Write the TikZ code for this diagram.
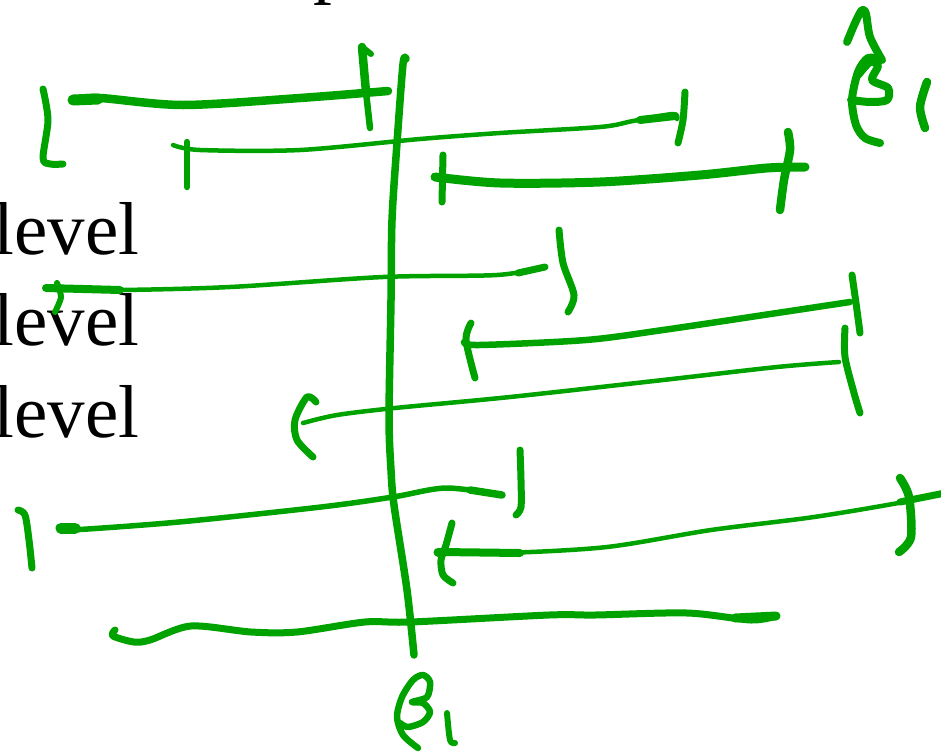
\documentclass[tikz,border=0pt]{standalone}
\usepackage{fontspec}
\setmainfont{Liberation Serif}
\definecolor{penGreen}{RGB}{0,162,0}
\tikzset{
  ink/.style={draw=penGreen, line cap=round, line join=round},
  fine/.style={ink, line width=4.5pt},
  mid/.style={ink, line width=6.5pt},
  bold/.style={ink, line width=8.5pt},
  lbl/.style={inner sep=0pt, font=\fontsize{75}{80}\selectfont},
}
\begin{document}
\begin{tikzpicture}[x=1pt,y=-1pt]
\useasboundingbox (0,0) rectangle (941,755);
\clip (0,0) rectangle (941,755);
% text
\node[lbl, anchor=base west] (ptop) at (313,-11) {p};
\node[lbl, anchor=base east] (lv1) at (139.5,254) {level};
\node[lbl, anchor=base east] (lv2) at (139.5,345) {level};
\node[lbl, anchor=base east] (lv3) at (139.5,437) {level};
% vertical line
\draw[ink, line width=7.5pt] plot[smooth] coordinates {(406,59) (403,64) (397,143) (392,220) (391,300) (389,417) (391,470) (394,505) (407,590) (414,655)};
% interval 1
\draw[bold] plot[smooth] coordinates {(73,100) (100,98) (183,105) (300,98) (388,91)};
\draw[ink, line width=11pt] (73,100) -- (98,99);
\draw[bold] (362,47) -- (366,92);
\draw[mid] (366,92) -- (370,128);
\draw[ink, line width=6pt] (362,47) -- (371,54);
\draw[ink, line width=7pt] plot[smooth] coordinates {(43,89) (48,120) (43,158) (50,164) (63,164)};
% interval 2
\draw[fine] plot[smooth] coordinates {(173,145) (200,150) (300,150) (420,139) (500,133) (600,127) (633,121) (673,114) (677,119)};
\draw[ink, line width=8pt] (640,120) -- (675,116);
\draw[mid] (187,142) -- (187,187);
\draw[ink, line width=7pt] plot[smooth] coordinates {(685,92) (683,120) (678,143)};
% interval 3
\draw[ink, line width=9pt] plot[smooth] coordinates {(435,177) (500,183) (600,182) (700,175) (767,168) (805,167)};
\draw[ink, line width=7pt] (443,155) -- (442,202);
\draw[bold] plot[smooth] coordinates {(788,132) (790,150) (784,180) (780,210)};
% interval 4
\draw[fine] plot[smooth] coordinates {(46,288) (115,290) (230,287) (383,277) (497,275) (545,267)};
\draw[ink, line width=8pt] (46,288) -- (120,290);
\draw[ink, line width=7pt] (518,273) -- (545,267);
\draw[ink, line width=6pt] plot[smooth] coordinates {(57,283) (61,297) (55,312)};
\draw[ink, line width=7pt] plot[smooth] coordinates {(559,230) (563,263) (574,295) (568,312)};
% interval 5
\draw[mid] plot[smooth] coordinates {(464,342) (479,345) (586,340) (663,330) (777,313) (850,302)};
\draw[ink, line width=7pt] plot[smooth] coordinates {(471,323) (466,340) (475,378)};
\draw[ink, line width=7pt] plot[smooth] coordinates {(852,275) (856,303) (860,333)};
% interval 6
\draw[fine] plot[smooth] coordinates {(303,423) (337,415) (395,408) (510,397) (663,380) (777,367) (839,362)};
\draw[ink, line width=7pt] plot[smooth] coordinates {(316,402) (307,397) (295,420) (297,440) (313,457)};
\draw[ink, line width=7pt] plot[smooth] coordinates {(845,328) (845,357) (854,393) (860,413)};
% interval 7
\draw[ink, line width=5.5pt] plot[smooth] coordinates {(61,528) (71,530) (179,522) (321,507) (393,497) (446,488) (502,495)};
\draw[ink, line width=11pt] (61,528) -- (75,528);
\draw[ink, line width=7.5pt] (470,490) -- (502,495);
\draw[ink, line width=7pt] plot[smooth] coordinates {(18,510) (25,515) (29,540) (32,568)};
\draw[ink, line width=7pt] plot[smooth] coordinates {(520,450) (521,480) (521,507) (516,515)};
% interval 8
\draw[fine] plot[smooth] coordinates {(441,552) (504,553) (607,547) (711,530) (814,517) (904,502) (945,493)};
\draw[ink, line width=8pt] (441,552) -- (520,553);
\draw[ink, line width=7pt] (900,502) -- (945,493);
\draw[ink, line width=7pt] plot[smooth] coordinates {(452,523) (446,545) (441,560) (443,575) (453,583)};
\draw[ink, line width=9pt] (438,552) -- (444,552);
\draw[bold] plot[smooth] coordinates {(900,478) (909,497) (911,537) (899,552)};
% bottom wavy line
\draw[ink, line width=7pt] plot[smooth] coordinates {(115,630) (113,636) (134,642) (150,640) (191,626) (251,632) (297,632) (365,622) (411,622) (549,615) (595,615) (687,613) (751,620) (776,616)};
\draw[ink, line width=9pt] (735,618) -- (776,616);
% beta hat 1
\draw[ink, line width=8pt] plot[smooth] coordinates {(847,42) (855,23) (862,10) (866,14) (870,37) (882,60)};
\draw[ink, line width=8pt] plot[smooth] coordinates {(880,60) (868,58) (858,72) (852,100) (856,125) (865,138) (880,143)};
\draw[ink, line width=8pt] plot[smooth] coordinates {(858,75) (870,62) (878,66) (872,80) (888,88) (887,100) (870,102) (851,100)};
\draw[bold] plot[smooth] coordinates {(927,82) (920,107) (925,128)};
% beta 1
\draw[ink, line width=6.5pt] plot[smooth] coordinates {(418,748) (403,735) (397,717) (402,697) (413,680) (423,675) (430,682) (427,697) (412,702) (423,703) (430,712) (423,722) (408,727) (400,723)};
\draw[ink, line width=6pt] plot[smooth] coordinates {(447,713) (450,740) (455,743)};
\end{tikzpicture}
\end{document}
